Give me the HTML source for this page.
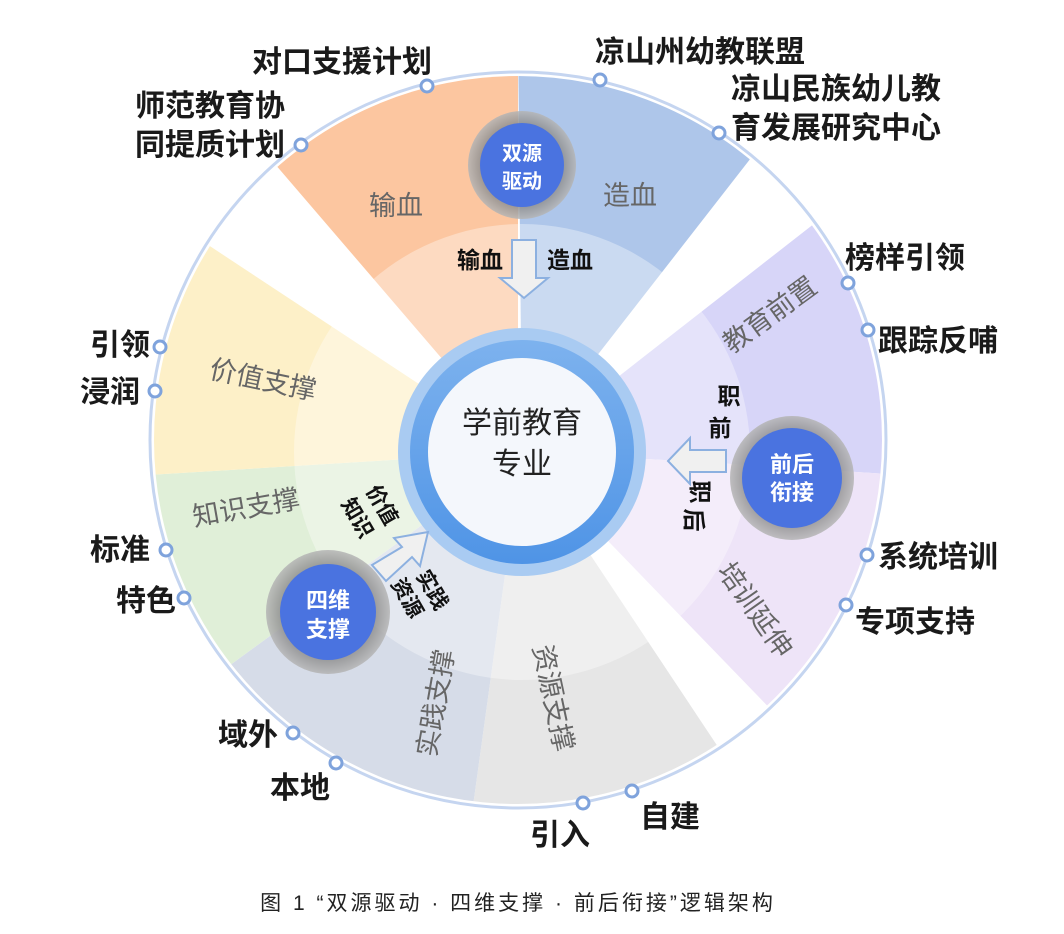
<!DOCTYPE html>
<html><head><meta charset="utf-8"><style>
html,body{margin:0;padding:0;background:#fff;}
svg{display:block;}
text{font-family:"Liberation Sans","Noto Sans CJK SC",sans-serif;}
.ol{font-size:30px;font-weight:bold;fill:#1a1a1a;}
.sl{font-size:27px;fill:#666;}
.dot{fill:#fff;stroke:#7fa3dc;stroke-width:3;}
</style></head><body>
<svg width="1064" height="934" viewBox="0 0 1064 934">
<defs>
<clipPath id="c"><circle cx="518" cy="440" r="364"/></clipPath>
<radialGradient id="halo"><stop offset="0.7" stop-color="#858585"/><stop offset="1" stop-color="#b5b5b5"/></radialGradient>
<linearGradient id="ring" x1="0" y1="0" x2="0" y2="1"><stop offset="0" stop-color="#7db2ee"/><stop offset="1" stop-color="#4f94e6"/></linearGradient>
</defs>
<circle cx="518" cy="440" r="368" fill="#fff" stroke="#c5d5f0" stroke-width="3"/>
<g clip-path="url(#c)">
<polygon points="522,452 160,30 518,30 518,452" fill="#fcc6a0"/>
<polygon points="522,452 518,30 840,30 800,95" fill="#aec6ea"/>
<polygon points="522,452 870,180 950,180 950,478 700,462" fill="#d7d5f8"/>
<polygon points="522,452 700,462 950,478 950,780 812,752" fill="#eee4f8"/>
<polygon points="522,452 740,780 740,900 460,900" fill="#e6e6e6"/>
<polygon points="522,452 460,900 100,900 100,760" fill="#d6dce8"/>
<polygon points="522,452 100,760 100,478" fill="#e0efd8"/>
<polygon points="522,452 100,478 100,200 140,200" fill="#fdf0c8"/>
<circle cx="522" cy="452" r="228" fill="#ffffff" opacity="0.35"/>
</g>
<circle cx="522" cy="452" r="124" fill="#a9cbf2"/>
<circle cx="522" cy="452" r="112" fill="url(#ring)"/>
<circle cx="522" cy="452" r="94" fill="#f4f7fc"/>
<text x="522" y="433" text-anchor="middle" font-size="30" fill="#222">学前教育</text>
<text x="522" y="474" text-anchor="middle" font-size="30" fill="#222">专业</text>
<polygon points="512,240 536,240 536,278 548,278 524,298 500,278 512,278" fill="#f0f0f0" stroke="#8cb0e0" stroke-width="2"/>
<polygon points="726,450 726,472 690,472 690,484 668,461 690,438 690,450" fill="#f0f0f0" stroke="#8cb0e0" stroke-width="2"/>
<polygon points="372,565 386,581 412,557 420,566 428,532 394,538 402,547" fill="#f0f0f0" stroke="#8cb0e0" stroke-width="2"/>
<circle cx="522" cy="165" r="54" fill="url(#halo)" opacity="0.85"/>
<circle cx="522" cy="165" r="42" fill="#4a73e0"/>
<text x="522" y="160" text-anchor="middle" font-size="20" font-weight="bold" fill="#fff">双源</text>
<text x="522" y="188" text-anchor="middle" font-size="20" font-weight="bold" fill="#fff">驱动</text>
<circle cx="792" cy="478" r="62" fill="url(#halo)" opacity="0.85"/>
<circle cx="792" cy="478" r="50" fill="#4a73e0"/>
<text x="792" y="472" text-anchor="middle" font-size="22" font-weight="bold" fill="#fff">前后</text>
<text x="792" y="500" text-anchor="middle" font-size="22" font-weight="bold" fill="#fff">衔接</text>
<circle cx="328" cy="612" r="62" fill="url(#halo)" opacity="0.85"/>
<circle cx="328" cy="612" r="48" fill="#4a73e0"/>
<text x="328" y="608" text-anchor="middle" font-size="22" font-weight="bold" fill="#fff">四维</text>
<text x="328" y="637" text-anchor="middle" font-size="22" font-weight="bold" fill="#fff">支撑</text>
<text x="480" y="268" text-anchor="middle" font-size="23" font-weight="bold" fill="#111">输血</text>
<text x="570" y="268" text-anchor="middle" font-size="23" font-weight="bold" fill="#111">造血</text>
<text x="729" y="404" text-anchor="middle" font-size="23" font-weight="bold" fill="#111">职</text>
<text x="720" y="436" text-anchor="middle" font-size="23" font-weight="bold" fill="#111">前</text>
<text transform="translate(700,492) rotate(90)" text-anchor="middle" font-size="23" font-weight="bold" fill="#111" dy="8">职</text>
<text transform="translate(694,520) rotate(90)" text-anchor="middle" font-size="23" font-weight="bold" fill="#111" dy="8">后</text>
<text transform="translate(382,505) rotate(60)" text-anchor="middle" font-size="21" font-weight="bold" fill="#111" dy="7">价值</text>
<text transform="translate(357,518) rotate(60)" text-anchor="middle" font-size="21" font-weight="bold" fill="#111" dy="7">知识</text>
<text transform="translate(432,590) rotate(60)" text-anchor="middle" font-size="21" font-weight="bold" fill="#111" dy="7">实践</text>
<text transform="translate(407,598) rotate(60)" text-anchor="middle" font-size="21" font-weight="bold" fill="#111" dy="7">资源</text>
<text class="sl" x="396" y="215" text-anchor="middle">输血</text>
<text class="sl" x="630" y="205" text-anchor="middle">造血</text>
<text class="sl" transform="translate(770,315) rotate(-36)" text-anchor="middle" dy="9">教育前置</text>
<text class="sl" transform="translate(755,610) rotate(55)" text-anchor="middle" dy="9">培训延伸</text>
<text class="sl" transform="translate(553,698) rotate(78)" text-anchor="middle" dy="9">资源支撑</text>
<text class="sl" transform="translate(436,703) rotate(-80)" text-anchor="middle" dy="9">实践支撑</text>
<text class="sl" transform="translate(246,508) rotate(-10)" text-anchor="middle" dy="9">知识支撑</text>
<text class="sl" transform="translate(263,380) rotate(12)" text-anchor="middle" dy="9">价值支撑</text>
<circle class="dot" cx="427" cy="86" r="6"/>
<circle class="dot" cx="600" cy="80" r="6"/>
<circle class="dot" cx="301" cy="145" r="6"/>
<circle class="dot" cx="719" cy="133" r="6"/>
<circle class="dot" cx="848" cy="283" r="6"/>
<circle class="dot" cx="868" cy="330" r="6"/>
<circle class="dot" cx="160" cy="347" r="6"/>
<circle class="dot" cx="155" cy="391" r="6"/>
<circle class="dot" cx="166" cy="550" r="6"/>
<circle class="dot" cx="184" cy="598" r="6"/>
<circle class="dot" cx="293" cy="733" r="6"/>
<circle class="dot" cx="336" cy="763" r="6"/>
<circle class="dot" cx="583" cy="803" r="6"/>
<circle class="dot" cx="632" cy="791" r="6"/>
<circle class="dot" cx="867" cy="555" r="6"/>
<circle class="dot" cx="846" cy="605" r="6"/>
<text class="ol" x="342" y="72" text-anchor="middle">对口支援计划</text>
<text class="ol" x="210" y="116" text-anchor="middle">师范教育协</text>
<text class="ol" x="210" y="155" text-anchor="middle">同提质计划</text>
<text class="ol" x="700" y="62" text-anchor="middle">凉山州幼教联盟</text>
<text class="ol" x="836" y="99" text-anchor="middle">凉山民族幼儿教</text>
<text class="ol" x="836" y="138" text-anchor="middle">育发展研究中心</text>
<text class="ol" x="845" y="268">榜样引领</text>
<text class="ol" x="878" y="351">跟踪反哺</text>
<text class="ol" x="878" y="567">系统培训</text>
<text class="ol" x="855" y="632">专项支持</text>
<text class="ol" x="640" y="827">自建</text>
<text class="ol" x="530" y="845">引入</text>
<text class="ol" x="270" y="798">本地</text>
<text class="ol" x="218" y="745">域外</text>
<text class="ol" x="116" y="611">特色</text>
<text class="ol" x="90" y="560">标准</text>
<text class="ol" x="80" y="402">浸润</text>
<text class="ol" x="90" y="355">引领</text>
<text x="518" y="910" text-anchor="middle" font-size="21" fill="#222" font-family="'Liberation Serif','Noto Serif CJK SC',serif" letter-spacing="3">图 1  “双源驱动 · 四维支撑 · 前后衔接”逻辑架构</text>
</svg>
</body></html>
